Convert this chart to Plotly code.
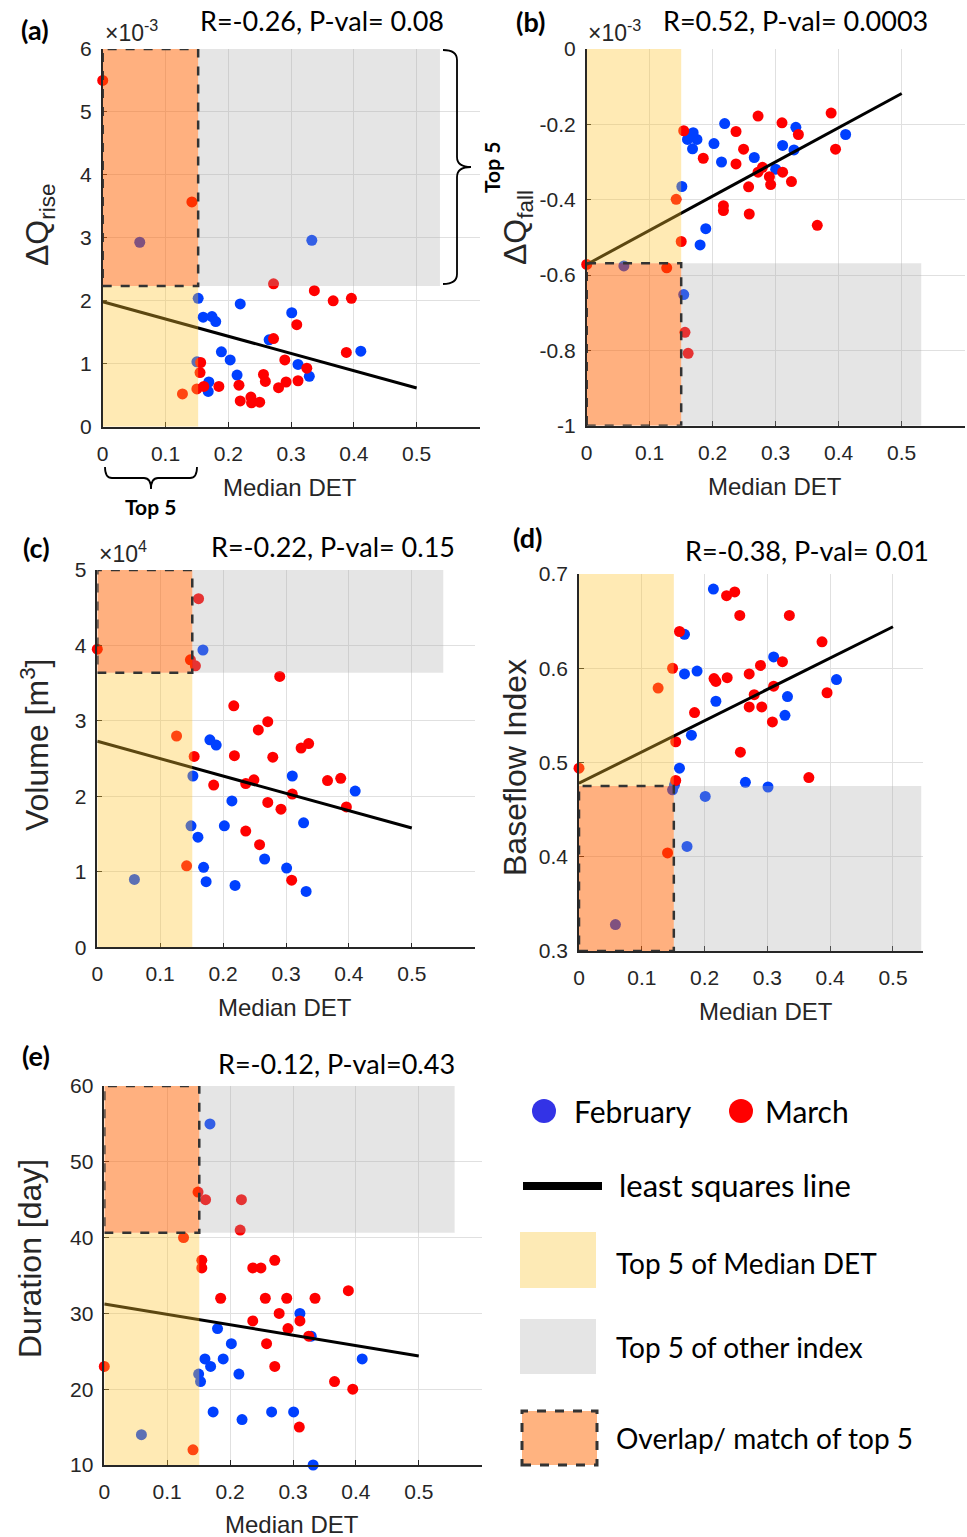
import plotly.graph_objects as go

W, H = 967, 1537

# ---------------- data ----------------
# (a) Delta Q_rise (x1e-3) vs Median DET
a_feb_x = [0.059, 0.333, 0.152, 0.219, 0.301, 0.160, 0.174, 0.180, 0.265, 0.411, 0.189, 0.203, 0.150, 0.311, 0.329, 0.214, 0.169, 0.168]
a_feb_y = [2.93, 2.96, 2.04, 1.95, 1.81, 1.74, 1.75, 1.67, 1.38, 1.20, 1.19, 1.06, 1.03, 0.99, 0.80, 0.82, 0.71, 0.56]
a_mar_x = [0.0, 0.142, 0.272, 0.337, 0.367, 0.396, 0.309, 0.272, 0.388, 0.156, 0.290, 0.325, 0.155, 0.256, 0.259, 0.311, 0.292, 0.280, 0.161, 0.185, 0.150, 0.217, 0.219, 0.236, 0.237, 0.250, 0.127]
a_mar_y = [5.50, 3.57, 2.27, 2.16, 2.00, 2.04, 1.62, 1.40, 1.18, 1.02, 1.06, 0.93, 0.86, 0.83, 0.72, 0.73, 0.71, 0.62, 0.64, 0.64, 0.60, 0.66, 0.41, 0.47, 0.38, 0.39, 0.52]

# (b) Delta Q_fall (x1e-3)
b_feb_x = [0.059, 0.154, 0.180, 0.189, 0.151, 0.300, 0.266, 0.214, 0.202, 0.168, 0.160, 0.175, 0.169, 0.219, 0.332, 0.311, 0.329, 0.411]
b_feb_y = [-0.576, -0.652, -0.520, -0.477, -0.365, -0.319, -0.288, -0.300, -0.251, -0.265, -0.240, -0.240, -0.222, -0.198, -0.208, -0.256, -0.268, -0.227]
b_mar_x = [0.0, 0.127, 0.156, 0.161, 0.150, 0.142, 0.217, 0.217, 0.258, 0.366, 0.257, 0.272, 0.279, 0.290, 0.292, 0.311, 0.325, 0.237, 0.249, 0.185, 0.154, 0.237, 0.272, 0.310, 0.336, 0.388, 0.395]
b_mar_y = [-0.572, -0.581, -0.752, -0.808, -0.511, -0.399, -0.416, -0.429, -0.438, -0.468, -0.366, -0.327, -0.314, -0.339, -0.360, -0.327, -0.352, -0.305, -0.266, -0.290, -0.217, -0.219, -0.178, -0.196, -0.227, -0.170, -0.266]

# (c) Volume (x1e4 m^3)
c_feb_x = [0.168, 0.179, 0.189, 0.152, 0.310, 0.410, 0.214, 0.328, 0.149, 0.202, 0.160, 0.266, 0.169, 0.301, 0.173, 0.219, 0.332, 0.059]
c_feb_y = [3.94, 2.75, 2.68, 2.27, 2.27, 2.07, 1.94, 1.65, 1.61, 1.61, 1.46, 1.17, 1.06, 1.05, 0.87, 0.82, 0.74, 0.90]
c_mar_x = [0.161, 0.0, 0.148, 0.156, 0.290, 0.217, 0.271, 0.256, 0.126, 0.324, 0.336, 0.154, 0.218, 0.279, 0.185, 0.236, 0.249, 0.366, 0.387, 0.310, 0.271, 0.292, 0.396, 0.236, 0.258, 0.142, 0.309]
c_mar_y = [4.62, 3.95, 3.81, 3.73, 3.59, 3.20, 2.99, 2.88, 2.80, 2.64, 2.70, 2.53, 2.54, 2.52, 2.15, 2.17, 2.22, 2.21, 2.24, 2.03, 1.92, 1.83, 1.86, 1.54, 1.36, 1.08, 0.89]

# (d) Baseflow Index
d_feb_x = [0.214, 0.168, 0.310, 0.168, 0.188, 0.410, 0.332, 0.218, 0.328, 0.179, 0.160, 0.152, 0.149, 0.265, 0.301, 0.201, 0.172, 0.058]
d_feb_y = [0.684, 0.636, 0.612, 0.594, 0.597, 0.588, 0.570, 0.565, 0.550, 0.529, 0.494, 0.476, 0.471, 0.479, 0.474, 0.464, 0.411, 0.328]
d_mar_x = [0.235, 0.248, 0.256, 0.335, 0.160, 0.387, 0.324, 0.149, 0.289, 0.271, 0.215, 0.218, 0.236, 0.126, 0.310, 0.395, 0.279, 0.271, 0.291, 0.308, 0.184, 0.154, 0.257, 0.0, 0.154, 0.366, 0.141]
d_mar_y = [0.677, 0.681, 0.656, 0.656, 0.639, 0.628, 0.607, 0.600, 0.603, 0.594, 0.589, 0.586, 0.590, 0.579, 0.581, 0.574, 0.572, 0.559, 0.559, 0.543, 0.553, 0.522, 0.511, 0.494, 0.481, 0.484, 0.404]

# (e) Duration [day]
e_feb_x = [0.168, 0.311, 0.180, 0.329, 0.202, 0.160, 0.189, 0.410, 0.169, 0.214, 0.150, 0.153, 0.173, 0.266, 0.301, 0.219, 0.059, 0.332]
e_feb_y = [55, 30, 28, 27, 26, 24, 24, 24, 23, 22, 22, 21, 17, 17, 17, 16, 14, 10]
e_mar_x = [0.149, 0.161, 0.218, 0.216, 0.126, 0.155, 0.155, 0.236, 0.249, 0.271, 0.185, 0.256, 0.290, 0.335, 0.388, 0.278, 0.311, 0.236, 0.292, 0.325, 0.258, 0.271, 0.0, 0.366, 0.395, 0.310, 0.141]
e_mar_y = [46, 45, 45, 41, 40, 37, 36, 36, 36, 37, 32, 32, 32, 32, 33, 30, 29, 29, 28, 27, 26, 23, 23, 21, 20, 15, 12]

# least squares lines (values at DET = 0 and 0.5)
fit_x = [0.0, 0.5]
fit_a = [1.986, 0.614]
fit_b = [-0.572, -0.118]
fit_c = [2.73, 1.58]
fit_d = [0.478, 0.644]
fit_e = [31.24, 24.38]

# top-5 thresholds: (DET threshold, other-index threshold, end of grey band)
top5_a = (0.152, 2.235, 0.537)
top5_b = (0.150, -0.569, 0.531)
top5_c = (0.151, 3.64, 0.550)
top5_d = (0.151, 0.475, 0.545)
top5_e = (0.151, 40.65, 0.557)

stats = ["R=-0.26, P-val= 0.08", "R=0.52, P-val= 0.0003", "R=-0.22, P-val= 0.15",
         "R=-0.38, P-val= 0.01", "R=-0.12, P-val=0.43"]

x_ticks = [0, 0.1, 0.2, 0.3, 0.4, 0.5]
x_ticktext = ["0", "0.1", "0.2", "0.3", "0.4", "0.5"]

# ---------------- helpers ----------------
def px(x):
    return x / W

def py(y):
    return 1 - y / H

BLUE = '#0040ff'
RED = '#ff0000'
AX = '#262626'
TICKFONT = dict(family='Liberation Sans, Arial, sans-serif', size=21, color=AX)
CAL = 'Lato, Carlito, Calibri, sans-serif'

panels = [
    dict(fx=a_feb_x, fy=a_feb_y, mx=a_mar_x, my=a_mar_y, fit=fit_a, top=top5_a, up=True,
         dx=(102.7, 479.5), dy=(49, 426.7), xr=(0, 0.6), yr=(0, 6),
         yt=[0, 1, 2, 3, 4, 5, 6], ytt=["0", "1", "2", "3", "4", "5", "6"]),
    dict(fx=b_feb_x, fy=b_feb_y, mx=b_mar_x, my=b_mar_y, fit=fit_b, top=top5_b, up=False,
         dx=(586.7, 964.7), dy=(49, 425.7), xr=(0, 0.6), yr=(-1, 0),
         yt=[-1, -0.8, -0.6, -0.4, -0.2, 0], ytt=["-1", "-0.8", "-0.6", "-0.4", "-0.2", "0"]),
    dict(fx=c_feb_x, fy=c_feb_y, mx=c_mar_x, my=c_mar_y, fit=fit_c, top=top5_c, up=True,
         dx=(97.3, 474.7), dy=(570, 947.3), xr=(0, 0.6), yr=(0, 5),
         yt=[0, 1, 2, 3, 4, 5], ytt=["0", "1", "2", "3", "4", "5"]),
    dict(fx=d_feb_x, fy=d_feb_y, mx=d_mar_x, my=d_mar_y, fit=fit_d, top=top5_d, up=False,
         dx=(579, 922.5), dy=(574, 951), xr=(0, 0.547), yr=(0.3, 0.7),
         yt=[0.3, 0.4, 0.5, 0.6, 0.7], ytt=["0.3", "0.4", "0.5", "0.6", "0.7"]),
    dict(fx=e_feb_x, fy=e_feb_y, mx=e_mar_x, my=e_mar_y, fit=fit_e, top=top5_e, up=True,
         dx=(104.3, 481.7), dy=(1086, 1465), xr=(0, 0.6), yr=(10, 60),
         yt=[10, 20, 30, 40, 50, 60], ytt=["10", "20", "30", "40", "50", "60"]),
]

fig = go.Figure()
layout = dict(width=W, height=H, margin=dict(l=0, r=0, t=0, b=0, pad=0, autoexpand=False),
              paper_bgcolor='white', plot_bgcolor='rgba(0,0,0,0)', showlegend=False)
shapes = []
annotations = []

for i, p in enumerate(panels, start=1):
    xa = 'xaxis' if i == 1 else f'xaxis{i}'
    ya = 'yaxis' if i == 1 else f'yaxis{i}'
    xr_ = 'x' if i == 1 else f'x{i}'
    yr_ = 'y' if i == 1 else f'y{i}'
    common = dict(showgrid=True, gridcolor='#e0e0e0', gridwidth=1, showline=True,
                  linecolor=AX, linewidth=1.5, ticks='inside', ticklen=5, tickcolor=AX,
                  tickfont=TICKFONT, zeroline=False, mirror=False, fixedrange=True,
                  automargin=False)
    layout[xa] = dict(domain=[px(p['dx'][0]), px(p['dx'][1])], range=list(p['xr']),
                      tickvals=x_ticks, ticktext=x_ticktext, anchor=yr_,
                      ticklabelstandoff=7, **common)
    layout[ya] = dict(domain=[py(p['dy'][1]), py(p['dy'][0])], range=list(p['yr']),
                      tickvals=p['yt'], ticktext=p['ytt'], anchor=xr_,
                      ticklabelstandoff=5, **common)

    fig.add_trace(go.Scatter(x=p['fx'], y=p['fy'], mode='markers', xaxis=xr_, yaxis=yr_,
                             marker=dict(color=BLUE, size=11, line=dict(width=0)),
                             cliponaxis=False, hoverinfo='skip'))
    fig.add_trace(go.Scatter(x=p['mx'], y=p['my'], mode='markers', xaxis=xr_, yaxis=yr_,
                             marker=dict(color=RED, size=11, line=dict(width=0)),
                             cliponaxis=False, hoverinfo='skip'))
    fig.add_trace(go.Scatter(x=fit_x, y=p['fit'], mode='lines', xaxis=xr_, yaxis=yr_,
                             line=dict(color='black', width=3), hoverinfo='skip'))

    xt, yt, xe = p['top']
    y0, y1 = p['yr']
    if p['up']:
        ov = (yt, y1)
        yl = (y0, yt)
    else:
        ov = (y0, yt)
        yl = (yt, y1)
    # yellow: top 5 of Median DET
    shapes.append(dict(type='rect', xref=xr_, yref=yr_, x0=0, x1=xt, y0=yl[0], y1=yl[1],
                       fillcolor='rgb(255,196,48)', opacity=0.36, line=dict(width=0), layer='above'))
    # grey: top 5 of other index
    shapes.append(dict(type='rect', xref=xr_, yref=yr_, x0=xt, x1=xe, y0=ov[0], y1=ov[1],
                       fillcolor='rgb(170,170,170)', opacity=0.3, line=dict(width=0), layer='above'))
    # orange overlap
    shapes.append(dict(type='rect', xref=xr_, yref=yr_, x0=0, x1=xt, y0=ov[0], y1=ov[1],
                       fillcolor='rgb(255,97,0)', opacity=0.5, line=dict(width=0), layer='above'))
    shapes.append(dict(type='rect', xref=xr_, yref=yr_, x0=0, x1=xt, y0=ov[0], y1=ov[1],
                       fillcolor='rgba(0,0,0,0)', line=dict(color='#333333', width=2.5, dash='dash'),
                       layer='above'))


def ann(text, x, y, size, family=CAL, color='black', angle=0, xanchor='center', yanchor='middle', bold=False):
    if bold:
        text = f'<b>{text}</b>'
    annotations.append(dict(text=text, x=px(x), y=py(y), xref='paper', yref='paper',
                            showarrow=False, font=dict(family=family, size=size, color=color),
                            textangle=angle, xanchor=xanchor, yanchor=yanchor))

ARIAL = 'Liberation Sans, Arial, sans-serif'
# panel letters
for lab, (x, y) in zip(['(a)', '(b)', '(c)', '(d)', '(e)'],
                       [(35, 30), (530, 22), (36, 547), (527, 537), (36, 1055)]):
    ann(lab, x, y, 27, bold=True)
# statistics titles
for t, (x, y) in zip(stats, [(322, 20), (795, 20), (333, 546), (807, 551), (336, 1063)]):
    ann(t, x, y, 27)
# x-axis titles
for (x, y) in [(290, 487), (775, 486), (285, 1007), (766, 1011), (292, 1524)]:
    ann('Median DET', x, y, 24, family=ARIAL, color=AX)
# y-axis titles
ann('ΔQ<sub>rise</sub>', 40, 225, 32, family=ARIAL, color=AX, angle=-90)
ann('ΔQ<sub>fall</sub>', 517, 228, 32, family=ARIAL, color=AX, angle=-90)
ann('Volume [m<sup>3</sup>]', 35, 745, 32, family=ARIAL, color=AX, angle=-90)
ann('Baseflow Index', 515, 768, 32, family=ARIAL, color=AX, angle=-90)
ann('Duration [day]', 30, 1259, 32, family=ARIAL, color=AX, angle=-90)
# exponent labels
ann('×10<sup>-3</sup>', 103, 48, 23, family=ARIAL, color=AX, xanchor='left', yanchor='bottom')
ann('×10<sup>-3</sup>', 586, 48, 23, family=ARIAL, color=AX, xanchor='left', yanchor='bottom')
ann('×10<sup>4</sup>', 97, 569, 23, family=ARIAL, color=AX, xanchor='left', yanchor='bottom')

# "Top 5" braces for panel (a)
def path(pts):
    s = ''
    for cmd, coords in pts:
        s += cmd + ' ' + ' '.join(f'{px(coords[k]):.5f},{py(coords[k+1]):.5f}' for k in range(0, len(coords), 2)) + ' '
    return s.strip()

hb = path([('M', (105, 467)), ('Q', (105, 478, 112, 478)), ('L', (144, 478)),
           ('Q', (151, 478, 151, 489)), ('Q', (151, 478, 158, 478)), ('L', (190, 478)),
           ('Q', (197, 478, 197, 467))])
vb = path([('M', (443, 50)), ('Q', (457, 50, 457, 60)), ('L', (457, 157)),
           ('Q', (457, 167, 471, 167)), ('Q', (457, 167, 457, 177)), ('L', (457, 274)),
           ('Q', (457, 284, 443, 284))])
for pth in (hb, vb):
    shapes.append(dict(type='path', path=pth, xref='paper', yref='paper',
                       line=dict(color='black', width=1.8), layer='above'))
ann('Top 5', 150, 507, 21, bold=True)
ann('Top 5', 492, 168, 21, bold=True, angle=-90)

# ---------------- legend (drawn) ----------------
def circ(cx, cy, r, color):
    shapes.append(dict(type='circle', xref='paper', yref='paper', x0=px(cx - r), x1=px(cx + r),
                       y0=py(cy + r), y1=py(cy - r), fillcolor=color, line=dict(width=0)))

circ(544, 1111, 12, '#3333e6')
ann('February', 572, 1111, 30, xanchor='left')
circ(741, 1111, 12, '#ff0000')
ann('March', 763, 1111, 30, xanchor='left')
shapes.append(dict(type='line', xref='paper', yref='paper', x0=px(523), x1=px(602),
                   y0=py(1186), y1=py(1186), line=dict(color='black', width=8)))
ann('least squares line', 617, 1185, 31, xanchor='left')
shapes.append(dict(type='rect', xref='paper', yref='paper', x0=px(520), x1=px(596),
                   y0=py(1288), y1=py(1232), fillcolor='#fdeab5', line=dict(width=0)))
ann('Top 5 of Median DET', 614, 1263, 28, xanchor='left')
shapes.append(dict(type='rect', xref='paper', yref='paper', x0=px(520), x1=px(596),
                   y0=py(1374), y1=py(1319), fillcolor='#e5e5e5', line=dict(width=0)))
ann('Top 5 of other index', 614, 1347, 28, xanchor='left')
shapes.append(dict(type='rect', xref='paper', yref='paper', x0=px(522), x1=px(597),
                   y0=py(1465), y1=py(1411), fillcolor='#ffb380',
                   line=dict(color='#333333', width=3, dash='dash')))
ann('Overlap/ match of top 5', 614, 1438, 28, xanchor='left')

layout['shapes'] = shapes
layout['annotations'] = annotations
fig.update_layout(**layout)
fig.write_html('out.html')
